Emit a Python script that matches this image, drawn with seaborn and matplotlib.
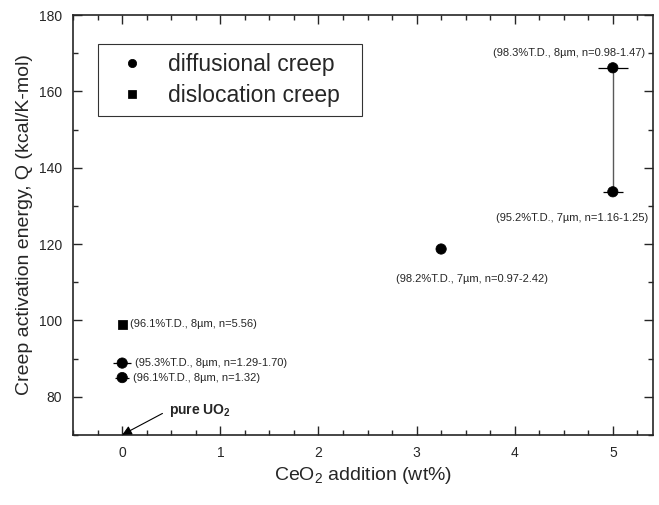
import matplotlib
matplotlib.use("Agg")
import matplotlib.pyplot as plt
from matplotlib.ticker import MultipleLocator
import pandas as pd
import seaborn as sb

# data
ceo2_diff = [0, 0, 3.25, 5, 5]
q_diff = [85.0, 88.8, 118.7, 133.7, 166.2]
xerr_diff = [0.07, 0.09, 0.0, 0.10, 0.15]

ceo2_disl = [0]
q_disl = [99.0]

label_text = ["(96.1%T.D., 8\u00b5m, n=1.32)",
              "(95.3%T.D., 8\u00b5m, n=1.29-1.70)",
              "(98.2%T.D., 7\u00b5m, n=0.97-2.42)",
              "(95.2%T.D., 7\u00b5m, n=1.16-1.25)",
              "(98.3%T.D., 8\u00b5m, n=0.98-1.47)",
              "(96.1%T.D., 8\u00b5m, n=5.56)"]
label_x = [0.11, 0.13, 3.56, 5.36, 5.33, 0.08]
label_y = [85.0, 88.8, 110.9, 126.9, 170.1, 99.0]
label_ha = ["left", "left", "center", "right", "right", "left"]

sb.set_style("ticks")
plt.rcParams['font.family'] = ['Liberation Sans', 'DejaVu Sans']
plt.rcParams['mathtext.default'] = 'regular'

df = pd.DataFrame({
    'ceo2': ceo2_diff + ceo2_disl,
    'q': q_diff + q_disl,
    'mech': ['diffusional creep'] * len(q_diff) + ['dislocation creep'] * len(q_disl),
})

fig = plt.figure(figsize=(6.59, 5.05), dpi=100)
ax = fig.add_axes([0.111, 0.139, 0.880, 0.831])

# range line for the 5 wt% samples
ax.plot(ceo2_diff[3:5], q_diff[3:5], color='0.35', lw=1.0, zorder=1)
# horizontal error bars
ax.errorbar(ceo2_diff, q_diff, xerr=xerr_diff, fmt='none', ecolor='black',
            elinewidth=0.9, capsize=0, zorder=2)

sb.scatterplot(data=df, x='ceo2', y='q', style='mech', size='mech',
               markers={'diffusional creep': 'o', 'dislocation creep': 's'},
               sizes={'diffusional creep': 55, 'dislocation creep': 40},
               color='black', edgecolor='black', ax=ax, zorder=3,
               legend=True)

for t, x, y, ha in zip(label_text, label_x, label_y, label_ha):
    ax.text(x, y, t, fontsize=8, ha=ha, va='center')

ax.annotate('', xy=(0, 70), xytext=(0.41, 75.6),
            arrowprops=dict(arrowstyle='-|>', color='black', lw=0.8,
                            mutation_scale=14, shrinkA=0, shrinkB=0))
ax.text(0.48, 76.4, 'pure UO$_2$', fontsize=10, fontweight='bold',
        ha='left', va='center')

ax.set_xlim(-0.5, 5.41)
ax.set_ylim(70, 180)
ax.xaxis.set_major_locator(MultipleLocator(1))
ax.xaxis.set_minor_locator(MultipleLocator(0.25))
ax.yaxis.set_major_locator(MultipleLocator(20))
ax.yaxis.set_minor_locator(MultipleLocator(10))
ax.tick_params(which='both', direction='in', top=True, right=True,
               labeltop=False, labelright=False, labelsize=10, width=1.0)
ax.tick_params(which='major', length=6.5, pad=8)
ax.tick_params(which='minor', length=3.5)
for sp in ax.spines.values():
    sp.set_linewidth(1.2)

ax.set_xlabel('CeO$_2$ addition (wt%)', fontsize=14)
ax.set_ylabel('Creep activation energy, Q (kcal/K-mol)', fontsize=14)

handles, labels = ax.get_legend_handles_labels()
leg = ax.legend(handles, labels, loc='upper left',
                bbox_to_anchor=(0.043, 0.5, 0.455, 0.431), mode='expand',
                borderaxespad=0, fontsize=16.5, frameon=True, fancybox=False,
                edgecolor='black', handlelength=2.2, handletextpad=0.43,
                borderpad=0.4, labelspacing=0.35, markerscale=0.8)
leg.get_frame().set_linewidth(0.8)

fig.savefig('out.png', dpi=100)
